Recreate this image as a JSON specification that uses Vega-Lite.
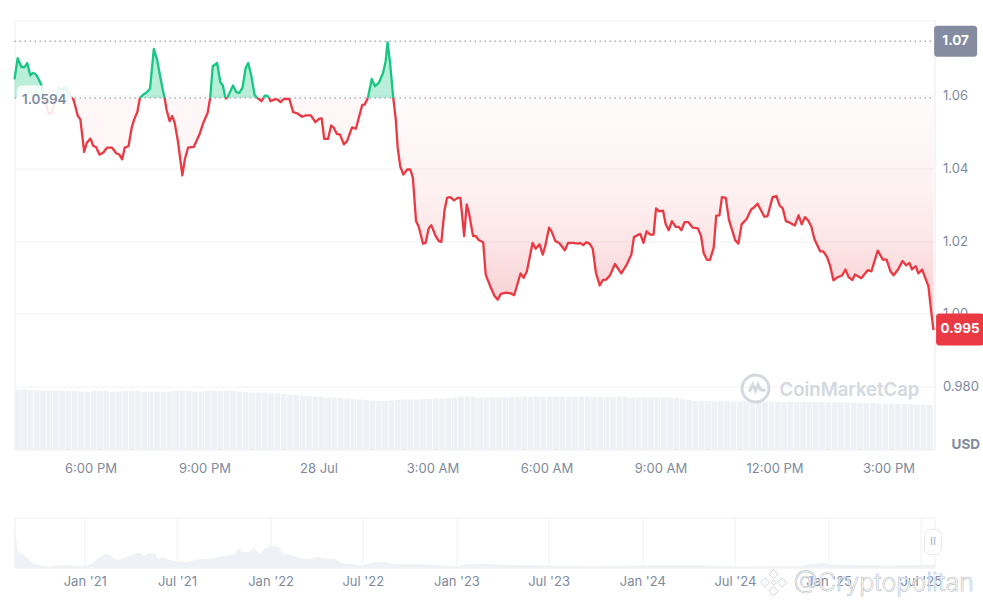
{
  "$schema": "https://vega.github.io/schema/vega-lite/v6.json",
  "background": "white",
  "padding": {"left": 12.5, "top": 19.5, "right": 0, "bottom": 0},
  "bounds": "flush",
  "spacing": 68,
  "config": {
    "font": "Inter",
    "view": {"stroke": "#f0f1f4"},
    "axis": {
      "title": null,
      "labelColor": "#808a9d",
      "labelFont": "Inter",
      "labelFontSize": 13,
      "domainColor": "#eff1f4",
      "gridColor": "#f1f2f5",
      "ticks": false
    }
  },
  "datasets": {
    "above": [
      {"t":"2025-07-27T16:00Z","p":1.0645,"seg":"g1"},{"t":"2025-07-27T16:05Z","p":1.0703,"seg":"g1"},{"t":"2025-07-27T16:11Z","p":1.0679,"seg":"g1"},{"t":"2025-07-27T16:16Z","p":1.0679,"seg":"g1"},{"t":"2025-07-27T16:20Z","p":1.069,"seg":"g1"},{"t":"2025-07-27T16:25Z","p":1.0656,"seg":"g1"},{"t":"2025-07-27T16:29Z","p":1.0663,"seg":"g1"},{"t":"2025-07-27T16:34Z","p":1.0658,"seg":"g1"},{"t":"2025-07-27T16:38Z","p":1.0646,"seg":"g1"},{"t":"2025-07-27T16:42Z","p":1.0631,"seg":"g1"},{"t":"2025-07-27T16:45Z","p":1.0612,"seg":"g1"},{"t":"2025-07-27T16:47Z","p":1.0594,"seg":"g1"},
      {"t":"2025-07-27T17:06Z","p":1.0594,"seg":"g2"},{"t":"2025-07-27T17:10Z","p":1.0622,"seg":"g2"},{"t":"2025-07-27T17:16Z","p":1.0617,"seg":"g2"},{"t":"2025-07-27T17:20Z","p":1.0624,"seg":"g2"},{"t":"2025-07-27T17:25Z","p":1.061,"seg":"g2"},{"t":"2025-07-27T17:30Z","p":1.0594,"seg":"g2"},
      {"t":"2025-07-27T19:18Z","p":1.0594,"seg":"g3"},{"t":"2025-07-27T19:24Z","p":1.0604,"seg":"g3"},{"t":"2025-07-27T19:28Z","p":1.0608,"seg":"g3"},{"t":"2025-07-27T19:34Z","p":1.0619,"seg":"g3"},{"t":"2025-07-27T19:40Z","p":1.0729,"seg":"g3"},{"t":"2025-07-27T19:45Z","p":1.07,"seg":"g3"},{"t":"2025-07-27T19:49Z","p":1.0663,"seg":"g3"},{"t":"2025-07-27T19:54Z","p":1.0617,"seg":"g3"},{"t":"2025-07-27T19:57Z","p":1.0594,"seg":"g3"},
      {"t":"2025-07-27T21:09Z","p":1.0594,"seg":"g4"},{"t":"2025-07-27T21:13Z","p":1.0681,"seg":"g4"},{"t":"2025-07-27T21:20Z","p":1.069,"seg":"g4"},{"t":"2025-07-27T21:25Z","p":1.0637,"seg":"g4"},{"t":"2025-07-27T21:29Z","p":1.0628,"seg":"g4"},{"t":"2025-07-27T21:33Z","p":1.0594,"seg":"g4"},
      {"t":"2025-07-27T21:36Z","p":1.0594,"seg":"g5"},{"t":"2025-07-27T21:45Z","p":1.0628,"seg":"g5"},{"t":"2025-07-27T21:50Z","p":1.061,"seg":"g5"},{"t":"2025-07-27T21:55Z","p":1.0608,"seg":"g5"},{"t":"2025-07-27T22:00Z","p":1.0622,"seg":"g5"},{"t":"2025-07-27T22:05Z","p":1.0677,"seg":"g5"},{"t":"2025-07-27T22:09Z","p":1.069,"seg":"g5"},{"t":"2025-07-27T22:14Z","p":1.0654,"seg":"g5"},{"t":"2025-07-27T22:19Z","p":1.0603,"seg":"g5"},{"t":"2025-07-27T22:23Z","p":1.0594,"seg":"g5"},
      {"t":"2025-07-27T22:33Z","p":1.0594,"seg":"g6"},{"t":"2025-07-27T22:35Z","p":1.06,"seg":"g6"},{"t":"2025-07-27T22:39Z","p":1.06,"seg":"g6"},{"t":"2025-07-27T22:42Z","p":1.0594,"seg":"g6"},
      {"t":"2025-07-28T01:18Z","p":1.0594,"seg":"g7"},{"t":"2025-07-28T01:24Z","p":1.0646,"seg":"g7"},{"t":"2025-07-28T01:29Z","p":1.0626,"seg":"g7"},{"t":"2025-07-28T01:35Z","p":1.0635,"seg":"g7"},{"t":"2025-07-28T01:42Z","p":1.0663,"seg":"g7"},{"t":"2025-07-28T01:46Z","p":1.0695,"seg":"g7"},{"t":"2025-07-28T01:49Z","p":1.0747,"seg":"g7"},{"t":"2025-07-28T01:53Z","p":1.069,"seg":"g7"},{"t":"2025-07-28T01:58Z","p":1.0594,"seg":"g7"}
    ],
    "below": [
      {"t":"2025-07-27T16:47Z","p":1.0594,"seg":"r1"},{"t":"2025-07-27T16:54Z","p":1.0551,"seg":"r1"},{"t":"2025-07-27T16:59Z","p":1.0551,"seg":"r1"},{"t":"2025-07-27T17:03Z","p":1.058,"seg":"r1"},{"t":"2025-07-27T17:06Z","p":1.0594,"seg":"r1"},
      {"t":"2025-07-27T17:30Z","p":1.0594,"seg":"r2"},{"t":"2025-07-27T17:33Z","p":1.059,"seg":"r2"},{"t":"2025-07-27T17:36Z","p":1.0571,"seg":"r2"},{"t":"2025-07-27T17:40Z","p":1.0544,"seg":"r2"},{"t":"2025-07-27T17:44Z","p":1.0535,"seg":"r2"},{"t":"2025-07-27T17:50Z","p":1.0445,"seg":"r2"},{"t":"2025-07-27T17:54Z","p":1.047,"seg":"r2"},{"t":"2025-07-27T18:00Z","p":1.0482,"seg":"r2"},{"t":"2025-07-27T18:04Z","p":1.0463,"seg":"r2"},{"t":"2025-07-27T18:09Z","p":1.0458,"seg":"r2"},{"t":"2025-07-27T18:14Z","p":1.0438,"seg":"r2"},{"t":"2025-07-27T18:20Z","p":1.0443,"seg":"r2"},{"t":"2025-07-27T18:26Z","p":1.0457,"seg":"r2"},{"t":"2025-07-27T18:34Z","p":1.0457,"seg":"r2"},{"t":"2025-07-27T18:41Z","p":1.0441,"seg":"r2"},{"t":"2025-07-27T18:45Z","p":1.0439,"seg":"r2"},{"t":"2025-07-27T18:50Z","p":1.0425,"seg":"r2"},{"t":"2025-07-27T18:54Z","p":1.0457,"seg":"r2"},{"t":"2025-07-27T19:00Z","p":1.0461,"seg":"r2"},{"t":"2025-07-27T19:05Z","p":1.0512,"seg":"r2"},{"t":"2025-07-27T19:09Z","p":1.0535,"seg":"r2"},{"t":"2025-07-27T19:14Z","p":1.0555,"seg":"r2"},{"t":"2025-07-27T19:18Z","p":1.0594,"seg":"r2"},
      {"t":"2025-07-27T19:57Z","p":1.0594,"seg":"r3"},{"t":"2025-07-27T20:00Z","p":1.0562,"seg":"r3"},{"t":"2025-07-27T20:05Z","p":1.053,"seg":"r3"},{"t":"2025-07-27T20:09Z","p":1.0544,"seg":"r3"},{"t":"2025-07-27T20:13Z","p":1.0525,"seg":"r3"},{"t":"2025-07-27T20:18Z","p":1.0475,"seg":"r3"},{"t":"2025-07-27T20:25Z","p":1.0381,"seg":"r3"},{"t":"2025-07-27T20:29Z","p":1.0425,"seg":"r3"},{"t":"2025-07-27T20:34Z","p":1.0457,"seg":"r3"},{"t":"2025-07-27T20:43Z","p":1.0459,"seg":"r3"},{"t":"2025-07-27T20:52Z","p":1.0493,"seg":"r3"},{"t":"2025-07-27T20:58Z","p":1.0525,"seg":"r3"},{"t":"2025-07-27T21:05Z","p":1.0553,"seg":"r3"},{"t":"2025-07-27T21:09Z","p":1.0594,"seg":"r3"},
      {"t":"2025-07-27T21:33Z","p":1.0594,"seg":"r4"},{"t":"2025-07-27T21:34Z","p":1.0592,"seg":"r4"},{"t":"2025-07-27T21:36Z","p":1.0594,"seg":"r4"},
      {"t":"2025-07-27T22:23Z","p":1.0594,"seg":"r5"},{"t":"2025-07-27T22:30Z","p":1.0585,"seg":"r5"},{"t":"2025-07-27T22:33Z","p":1.0594,"seg":"r5"},
      {"t":"2025-07-27T22:42Z","p":1.0594,"seg":"r6"},{"t":"2025-07-27T22:44Z","p":1.0585,"seg":"r6"},{"t":"2025-07-27T22:51Z","p":1.059,"seg":"r6"},{"t":"2025-07-27T22:55Z","p":1.059,"seg":"r6"},{"t":"2025-07-27T23:00Z","p":1.0582,"seg":"r6"},{"t":"2025-07-27T23:05Z","p":1.0591,"seg":"r6"},{"t":"2025-07-27T23:14Z","p":1.0591,"seg":"r6"},{"t":"2025-07-27T23:20Z","p":1.0555,"seg":"r6"},{"t":"2025-07-27T23:27Z","p":1.0551,"seg":"r6"},{"t":"2025-07-27T23:34Z","p":1.0542,"seg":"r6"},{"t":"2025-07-27T23:40Z","p":1.0546,"seg":"r6"},{"t":"2025-07-27T23:48Z","p":1.0546,"seg":"r6"},{"t":"2025-07-27T23:55Z","p":1.0527,"seg":"r6"},{"t":"2025-07-28T00:01Z","p":1.0536,"seg":"r6"},{"t":"2025-07-28T00:05Z","p":1.0538,"seg":"r6"},{"t":"2025-07-28T00:09Z","p":1.0481,"seg":"r6"},{"t":"2025-07-28T00:15Z","p":1.0481,"seg":"r6"},{"t":"2025-07-28T00:20Z","p":1.0518,"seg":"r6"},{"t":"2025-07-28T00:24Z","p":1.0512,"seg":"r6"},{"t":"2025-07-28T00:29Z","p":1.0495,"seg":"r6"},{"t":"2025-07-28T00:34Z","p":1.0493,"seg":"r6"},{"t":"2025-07-28T00:40Z","p":1.0466,"seg":"r6"},{"t":"2025-07-28T00:45Z","p":1.0475,"seg":"r6"},{"t":"2025-07-28T00:53Z","p":1.0513,"seg":"r6"},{"t":"2025-07-28T00:59Z","p":1.0509,"seg":"r6"},{"t":"2025-07-28T01:09Z","p":1.0574,"seg":"r6"},{"t":"2025-07-28T01:13Z","p":1.0576,"seg":"r6"},{"t":"2025-07-28T01:18Z","p":1.0594,"seg":"r6"},
      {"t":"2025-07-28T01:58Z","p":1.0594,"seg":"r7"},{"t":"2025-07-28T02:02Z","p":1.0535,"seg":"r7"},{"t":"2025-07-28T02:05Z","p":1.0457,"seg":"r7"},{"t":"2025-07-28T02:09Z","p":1.0406,"seg":"r7"},{"t":"2025-07-28T02:14Z","p":1.0383,"seg":"r7"},{"t":"2025-07-28T02:20Z","p":1.0397,"seg":"r7"},{"t":"2025-07-28T02:25Z","p":1.0397,"seg":"r7"},{"t":"2025-07-28T02:29Z","p":1.0374,"seg":"r7"},{"t":"2025-07-28T02:34Z","p":1.0255,"seg":"r7"},{"t":"2025-07-28T02:38Z","p":1.0241,"seg":"r7"},{"t":"2025-07-28T02:45Z","p":1.0193,"seg":"r7"},{"t":"2025-07-28T02:49Z","p":1.0195,"seg":"r7"},{"t":"2025-07-28T02:54Z","p":1.0235,"seg":"r7"},{"t":"2025-07-28T02:58Z","p":1.0244,"seg":"r7"},{"t":"2025-07-28T03:05Z","p":1.0214,"seg":"r7"},{"t":"2025-07-28T03:10Z","p":1.02,"seg":"r7"},{"t":"2025-07-28T03:14Z","p":1.0198,"seg":"r7"},{"t":"2025-07-28T03:19Z","p":1.0285,"seg":"r7"},{"t":"2025-07-28T03:23Z","p":1.0319,"seg":"r7"},{"t":"2025-07-28T03:28Z","p":1.0321,"seg":"r7"},{"t":"2025-07-28T03:34Z","p":1.0312,"seg":"r7"},{"t":"2025-07-28T03:40Z","p":1.0319,"seg":"r7"},{"t":"2025-07-28T03:44Z","p":1.0319,"seg":"r7"},{"t":"2025-07-28T03:50Z","p":1.0214,"seg":"r7"},{"t":"2025-07-28T03:54Z","p":1.0301,"seg":"r7"},{"t":"2025-07-28T03:58Z","p":1.0273,"seg":"r7"},{"t":"2025-07-28T04:04Z","p":1.0214,"seg":"r7"},{"t":"2025-07-28T04:08Z","p":1.0214,"seg":"r7"},{"t":"2025-07-28T04:13Z","p":1.0203,"seg":"r7"},{"t":"2025-07-28T04:20Z","p":1.0197,"seg":"r7"},{"t":"2025-07-28T04:24Z","p":1.0108,"seg":"r7"},{"t":"2025-07-28T04:31Z","p":1.0076,"seg":"r7"},{"t":"2025-07-28T04:38Z","p":1.0049,"seg":"r7"},{"t":"2025-07-28T04:43Z","p":1.0039,"seg":"r7"},{"t":"2025-07-28T04:48Z","p":1.0055,"seg":"r7"},{"t":"2025-07-28T04:56Z","p":1.0058,"seg":"r7"},{"t":"2025-07-28T05:04Z","p":1.0056,"seg":"r7"},{"t":"2025-07-28T05:09Z","p":1.0051,"seg":"r7"},{"t":"2025-07-28T05:19Z","p":1.0111,"seg":"r7"},{"t":"2025-07-28T05:24Z","p":1.0099,"seg":"r7"},{"t":"2025-07-28T05:29Z","p":1.0117,"seg":"r7"},{"t":"2025-07-28T05:38Z","p":1.0195,"seg":"r7"},{"t":"2025-07-28T05:43Z","p":1.0179,"seg":"r7"},{"t":"2025-07-28T05:49Z","p":1.0191,"seg":"r7"},{"t":"2025-07-28T05:54Z","p":1.0163,"seg":"r7"},{"t":"2025-07-28T05:58Z","p":1.0186,"seg":"r7"},{"t":"2025-07-28T06:04Z","p":1.0237,"seg":"r7"},{"t":"2025-07-28T06:08Z","p":1.0227,"seg":"r7"},{"t":"2025-07-28T06:14Z","p":1.02,"seg":"r7"},{"t":"2025-07-28T06:20Z","p":1.0195,"seg":"r7"},{"t":"2025-07-28T06:29Z","p":1.0175,"seg":"r7"},{"t":"2025-07-28T06:34Z","p":1.0195,"seg":"r7"},{"t":"2025-07-28T06:42Z","p":1.0195,"seg":"r7"},{"t":"2025-07-28T06:50Z","p":1.0193,"seg":"r7"},{"t":"2025-07-28T06:53Z","p":1.0195,"seg":"r7"},{"t":"2025-07-28T06:58Z","p":1.0189,"seg":"r7"},{"t":"2025-07-28T07:03Z","p":1.0197,"seg":"r7"},{"t":"2025-07-28T07:08Z","p":1.0193,"seg":"r7"},{"t":"2025-07-28T07:13Z","p":1.0179,"seg":"r7"},{"t":"2025-07-28T07:18Z","p":1.0113,"seg":"r7"},{"t":"2025-07-28T07:24Z","p":1.0078,"seg":"r7"},{"t":"2025-07-28T07:29Z","p":1.0093,"seg":"r7"},{"t":"2025-07-28T07:34Z","p":1.0094,"seg":"r7"},{"t":"2025-07-28T07:40Z","p":1.0105,"seg":"r7"},{"t":"2025-07-28T07:48Z","p":1.0137,"seg":"r7"},{"t":"2025-07-28T07:58Z","p":1.0111,"seg":"r7"},{"t":"2025-07-28T08:06Z","p":1.0133,"seg":"r7"},{"t":"2025-07-28T08:14Z","p":1.0163,"seg":"r7"},{"t":"2025-07-28T08:18Z","p":1.0211,"seg":"r7"},{"t":"2025-07-28T08:28Z","p":1.022,"seg":"r7"},{"t":"2025-07-28T08:33Z","p":1.0195,"seg":"r7"},{"t":"2025-07-28T08:38Z","p":1.0227,"seg":"r7"},{"t":"2025-07-28T08:44Z","p":1.0218,"seg":"r7"},{"t":"2025-07-28T08:49Z","p":1.0218,"seg":"r7"},{"t":"2025-07-28T08:53Z","p":1.029,"seg":"r7"},{"t":"2025-07-28T08:58Z","p":1.0282,"seg":"r7"},{"t":"2025-07-28T09:04Z","p":1.0284,"seg":"r7"},{"t":"2025-07-28T09:08Z","p":1.0248,"seg":"r7"},{"t":"2025-07-28T09:13Z","p":1.023,"seg":"r7"},{"t":"2025-07-28T09:18Z","p":1.0255,"seg":"r7"},{"t":"2025-07-28T09:24Z","p":1.0239,"seg":"r7"},{"t":"2025-07-28T09:29Z","p":1.0239,"seg":"r7"},{"t":"2025-07-28T09:33Z","p":1.023,"seg":"r7"},{"t":"2025-07-28T09:38Z","p":1.0252,"seg":"r7"},{"t":"2025-07-28T09:44Z","p":1.0252,"seg":"r7"},{"t":"2025-07-28T09:51Z","p":1.0237,"seg":"r7"},{"t":"2025-07-28T09:59Z","p":1.0235,"seg":"r7"},{"t":"2025-07-28T10:04Z","p":1.0214,"seg":"r7"},{"t":"2025-07-28T10:08Z","p":1.0168,"seg":"r7"},{"t":"2025-07-28T10:13Z","p":1.0149,"seg":"r7"},{"t":"2025-07-28T10:18Z","p":1.0148,"seg":"r7"},{"t":"2025-07-28T10:24Z","p":1.0182,"seg":"r7"},{"t":"2025-07-28T10:28Z","p":1.027,"seg":"r7"},{"t":"2025-07-28T10:33Z","p":1.0271,"seg":"r7"},{"t":"2025-07-28T10:37Z","p":1.0321,"seg":"r7"},{"t":"2025-07-28T10:43Z","p":1.0319,"seg":"r7"},{"t":"2025-07-28T10:48Z","p":1.0259,"seg":"r7"},{"t":"2025-07-28T10:58Z","p":1.0202,"seg":"r7"},{"t":"2025-07-28T11:03Z","p":1.0193,"seg":"r7"},{"t":"2025-07-28T11:08Z","p":1.0246,"seg":"r7"},{"t":"2025-07-28T11:16Z","p":1.0261,"seg":"r7"},{"t":"2025-07-28T11:23Z","p":1.0287,"seg":"r7"},{"t":"2025-07-28T11:28Z","p":1.0293,"seg":"r7"},{"t":"2025-07-28T11:33Z","p":1.0303,"seg":"r7"},{"t":"2025-07-28T11:38Z","p":1.0287,"seg":"r7"},{"t":"2025-07-28T11:44Z","p":1.0267,"seg":"r7"},{"t":"2025-07-28T11:49Z","p":1.0269,"seg":"r7"},{"t":"2025-07-28T11:57Z","p":1.0321,"seg":"r7"},{"t":"2025-07-28T12:03Z","p":1.0324,"seg":"r7"},{"t":"2025-07-28T12:08Z","p":1.0298,"seg":"r7"},{"t":"2025-07-28T12:13Z","p":1.029,"seg":"r7"},{"t":"2025-07-28T12:18Z","p":1.0255,"seg":"r7"},{"t":"2025-07-28T12:25Z","p":1.025,"seg":"r7"},{"t":"2025-07-28T12:32Z","p":1.0243,"seg":"r7"},{"t":"2025-07-28T12:38Z","p":1.0271,"seg":"r7"},{"t":"2025-07-28T12:43Z","p":1.0246,"seg":"r7"},{"t":"2025-07-28T12:48Z","p":1.0266,"seg":"r7"},{"t":"2025-07-28T12:53Z","p":1.0257,"seg":"r7"},{"t":"2025-07-28T12:58Z","p":1.0241,"seg":"r7"},{"t":"2025-07-28T13:03Z","p":1.0206,"seg":"r7"},{"t":"2025-07-28T13:12Z","p":1.0172,"seg":"r7"},{"t":"2025-07-28T13:17Z","p":1.0172,"seg":"r7"},{"t":"2025-07-28T13:23Z","p":1.0156,"seg":"r7"},{"t":"2025-07-28T13:28Z","p":1.0131,"seg":"r7"},{"t":"2025-07-28T13:33Z","p":1.0092,"seg":"r7"},{"t":"2025-07-28T13:38Z","p":1.0099,"seg":"r7"},{"t":"2025-07-28T13:47Z","p":1.0106,"seg":"r7"},{"t":"2025-07-28T13:52Z","p":1.0122,"seg":"r7"},{"t":"2025-07-28T13:57Z","p":1.0101,"seg":"r7"},{"t":"2025-07-28T14:03Z","p":1.0093,"seg":"r7"},{"t":"2025-07-28T14:07Z","p":1.0108,"seg":"r7"},{"t":"2025-07-28T14:17Z","p":1.0098,"seg":"r7"},{"t":"2025-07-28T14:27Z","p":1.012,"seg":"r7"},{"t":"2025-07-28T14:33Z","p":1.0117,"seg":"r7"},{"t":"2025-07-28T14:43Z","p":1.0174,"seg":"r7"},{"t":"2025-07-28T14:51Z","p":1.0149,"seg":"r7"},{"t":"2025-07-28T14:57Z","p":1.0149,"seg":"r7"},{"t":"2025-07-28T15:03Z","p":1.0117,"seg":"r7"},{"t":"2025-07-28T15:08Z","p":1.0106,"seg":"r7"},{"t":"2025-07-28T15:15Z","p":1.0122,"seg":"r7"},{"t":"2025-07-28T15:22Z","p":1.0145,"seg":"r7"},{"t":"2025-07-28T15:28Z","p":1.0133,"seg":"r7"},{"t":"2025-07-28T15:33Z","p":1.014,"seg":"r7"},{"t":"2025-07-28T15:37Z","p":1.0122,"seg":"r7"},{"t":"2025-07-28T15:43Z","p":1.0131,"seg":"r7"},{"t":"2025-07-28T15:47Z","p":1.0111,"seg":"r7"},{"t":"2025-07-28T15:53Z","p":1.0122,"seg":"r7"},{"t":"2025-07-28T15:59Z","p":1.0094,"seg":"r7"},{"t":"2025-07-28T16:03Z","p":1.0076,"seg":"r7"},{"t":"2025-07-28T16:07Z","p":1.0012,"seg":"r7"},{"t":"2025-07-28T16:11Z","p":0.9955,"seg":"r7"}
    ],
    "volume": [
      {"t":"2025-07-27T16:05Z","v":60},{"t":"2025-07-27T16:15Z","v":60},{"t":"2025-07-27T16:25Z","v":59},{"t":"2025-07-27T16:35Z","v":59},{"t":"2025-07-27T16:45Z","v":58.5},{"t":"2025-07-27T16:55Z","v":58.5},{"t":"2025-07-27T17:05Z","v":58.5},{"t":"2025-07-27T17:15Z","v":58.5},{"t":"2025-07-27T17:25Z","v":58.5},{"t":"2025-07-27T17:35Z","v":58.5},{"t":"2025-07-27T17:45Z","v":58},{"t":"2025-07-27T17:55Z","v":58},
      {"t":"2025-07-27T18:05Z","v":58.5},{"t":"2025-07-27T18:15Z","v":58.5},{"t":"2025-07-27T18:25Z","v":58.5},{"t":"2025-07-27T18:35Z","v":58},{"t":"2025-07-27T18:45Z","v":58},{"t":"2025-07-27T18:55Z","v":58.5},{"t":"2025-07-27T19:05Z","v":58.5},{"t":"2025-07-27T19:15Z","v":58.5},{"t":"2025-07-27T19:25Z","v":58},{"t":"2025-07-27T19:35Z","v":58},{"t":"2025-07-27T19:45Z","v":58},{"t":"2025-07-27T19:55Z","v":58},
      {"t":"2025-07-27T20:05Z","v":58},{"t":"2025-07-27T20:15Z","v":58.5},{"t":"2025-07-27T20:25Z","v":58.5},{"t":"2025-07-27T20:35Z","v":58.5},{"t":"2025-07-27T20:45Z","v":58},{"t":"2025-07-27T20:55Z","v":58},{"t":"2025-07-27T21:05Z","v":58.5},{"t":"2025-07-27T21:15Z","v":58.5},{"t":"2025-07-27T21:25Z","v":58.5},{"t":"2025-07-27T21:35Z","v":58.5},{"t":"2025-07-27T21:45Z","v":58.5},{"t":"2025-07-27T21:55Z","v":58},
      {"t":"2025-07-27T22:05Z","v":57.5},{"t":"2025-07-27T22:15Z","v":57},{"t":"2025-07-27T22:25Z","v":57},{"t":"2025-07-27T22:35Z","v":56.5},{"t":"2025-07-27T22:45Z","v":56},{"t":"2025-07-27T22:55Z","v":56},{"t":"2025-07-27T23:05Z","v":55.5},{"t":"2025-07-27T23:15Z","v":55},{"t":"2025-07-27T23:25Z","v":54.5},{"t":"2025-07-27T23:35Z","v":54},{"t":"2025-07-27T23:45Z","v":53.5},{"t":"2025-07-27T23:55Z","v":53},
      {"t":"2025-07-28T00:05Z","v":52.5},{"t":"2025-07-28T00:15Z","v":52},{"t":"2025-07-28T00:25Z","v":52},{"t":"2025-07-28T00:35Z","v":51.5},{"t":"2025-07-28T00:45Z","v":51},{"t":"2025-07-28T00:55Z","v":50.5},{"t":"2025-07-28T01:05Z","v":50},{"t":"2025-07-28T01:15Z","v":49.5},{"t":"2025-07-28T01:25Z","v":49},{"t":"2025-07-28T01:35Z","v":48.5},{"t":"2025-07-28T01:45Z","v":48.5},{"t":"2025-07-28T01:55Z","v":49},
      {"t":"2025-07-28T02:05Z","v":49.5},{"t":"2025-07-28T02:15Z","v":50},{"t":"2025-07-28T02:25Z","v":50},{"t":"2025-07-28T02:35Z","v":50},{"t":"2025-07-28T02:45Z","v":50.5},{"t":"2025-07-28T02:55Z","v":50.5},{"t":"2025-07-28T03:05Z","v":51},{"t":"2025-07-28T03:15Z","v":51},{"t":"2025-07-28T03:25Z","v":51.5},{"t":"2025-07-28T03:35Z","v":52},{"t":"2025-07-28T03:45Z","v":52.5},{"t":"2025-07-28T03:55Z","v":52.7},
      {"t":"2025-07-28T04:05Z","v":52.5},{"t":"2025-07-28T04:15Z","v":52},{"t":"2025-07-28T04:25Z","v":52},{"t":"2025-07-28T04:35Z","v":52},{"t":"2025-07-28T04:45Z","v":52},{"t":"2025-07-28T04:55Z","v":52},{"t":"2025-07-28T05:05Z","v":52.5},{"t":"2025-07-28T05:15Z","v":52.5},{"t":"2025-07-28T05:25Z","v":52.5},{"t":"2025-07-28T05:35Z","v":52.5},{"t":"2025-07-28T05:45Z","v":53},{"t":"2025-07-28T05:55Z","v":53},
      {"t":"2025-07-28T06:05Z","v":53},{"t":"2025-07-28T06:15Z","v":53},{"t":"2025-07-28T06:25Z","v":53},{"t":"2025-07-28T06:35Z","v":53},{"t":"2025-07-28T06:45Z","v":53},{"t":"2025-07-28T06:55Z","v":53},{"t":"2025-07-28T07:05Z","v":52.5},{"t":"2025-07-28T07:15Z","v":52.5},{"t":"2025-07-28T07:25Z","v":52.5},{"t":"2025-07-28T07:35Z","v":52.5},{"t":"2025-07-28T07:45Z","v":52.5},{"t":"2025-07-28T07:55Z","v":52.5},
      {"t":"2025-07-28T08:05Z","v":52.5},{"t":"2025-07-28T08:15Z","v":52},{"t":"2025-07-28T08:25Z","v":52},{"t":"2025-07-28T08:35Z","v":52},{"t":"2025-07-28T08:45Z","v":52},{"t":"2025-07-28T08:55Z","v":52},{"t":"2025-07-28T09:05Z","v":52},{"t":"2025-07-28T09:15Z","v":52},{"t":"2025-07-28T09:25Z","v":51.5},{"t":"2025-07-28T09:35Z","v":50.5},{"t":"2025-07-28T09:45Z","v":49.5},{"t":"2025-07-28T09:55Z","v":48.5},
      {"t":"2025-07-28T10:05Z","v":48.5},{"t":"2025-07-28T10:15Z","v":48.5},{"t":"2025-07-28T10:25Z","v":48},{"t":"2025-07-28T10:35Z","v":48},{"t":"2025-07-28T10:45Z","v":48},{"t":"2025-07-28T10:55Z","v":48},{"t":"2025-07-28T11:05Z","v":48},{"t":"2025-07-28T11:15Z","v":48},{"t":"2025-07-28T11:25Z","v":47.8},{"t":"2025-07-28T11:35Z","v":47.8},{"t":"2025-07-28T11:45Z","v":47.8},{"t":"2025-07-28T11:55Z","v":47.8},
      {"t":"2025-07-28T12:05Z","v":47.5},{"t":"2025-07-28T12:15Z","v":47.5},{"t":"2025-07-28T12:25Z","v":47.5},{"t":"2025-07-28T12:35Z","v":47.5},{"t":"2025-07-28T12:45Z","v":47.5},{"t":"2025-07-28T12:55Z","v":47.5},{"t":"2025-07-28T13:05Z","v":47.3},{"t":"2025-07-28T13:15Z","v":47.3},{"t":"2025-07-28T13:25Z","v":47.3},{"t":"2025-07-28T13:35Z","v":47.3},{"t":"2025-07-28T13:45Z","v":47},{"t":"2025-07-28T13:55Z","v":47},
      {"t":"2025-07-28T14:05Z","v":47},{"t":"2025-07-28T14:15Z","v":46.5},{"t":"2025-07-28T14:25Z","v":46.5},{"t":"2025-07-28T14:35Z","v":46.5},{"t":"2025-07-28T14:45Z","v":46},{"t":"2025-07-28T14:55Z","v":46},{"t":"2025-07-28T15:05Z","v":46},{"t":"2025-07-28T15:15Z","v":45.5},{"t":"2025-07-28T15:25Z","v":45.5},{"t":"2025-07-28T15:35Z","v":45.5},{"t":"2025-07-28T15:45Z","v":45},{"t":"2025-07-28T15:55Z","v":45},{"t":"2025-07-28T16:05Z","v":45}
    ],
    "history": [
      {"d":"2020-08-16","h":135},{"d":"2020-08-18","h":100},{"d":"2020-08-23","h":42},{"d":"2020-09-02","h":40},{"d":"2020-09-12","h":25},{"d":"2020-09-21","h":12},{"d":"2020-10-05","h":6},{"d":"2020-10-24","h":2},{"d":"2020-11-19","h":7},{"d":"2020-12-29","h":3},
      {"d":"2021-01-14","h":10},{"d":"2021-01-27","h":28},{"d":"2021-02-09","h":40},{"d":"2021-02-19","h":38},{"d":"2021-03-01","h":24},{"d":"2021-03-14","h":24},{"d":"2021-03-24","h":32},{"d":"2021-04-06","h":38},{"d":"2021-04-18","h":45},{"d":"2021-04-26","h":34},{"d":"2021-05-06","h":42},{"d":"2021-05-19","h":42},{"d":"2021-05-25","h":25},{"d":"2021-06-04","h":32},{"d":"2021-06-17","h":22},{"d":"2021-07-04","h":18},{"d":"2021-07-20","h":16},{"d":"2021-08-09","h":24},{"d":"2021-09-10","h":26},{"d":"2021-09-20","h":32},{"d":"2021-10-20","h":38},{"d":"2021-10-30","h":55},{"d":"2021-11-08","h":46},{"d":"2021-11-18","h":46},{"d":"2021-11-29","h":58},{"d":"2021-12-11","h":42},{"d":"2021-12-21","h":58},
      {"d":"2022-01-01","h":64},{"d":"2022-01-16","h":62},{"d":"2022-01-25","h":40},{"d":"2022-02-08","h":38},{"d":"2022-02-28","h":28},{"d":"2022-03-16","h":25},{"d":"2022-04-03","h":32},{"d":"2022-04-18","h":26},{"d":"2022-05-08","h":26},{"d":"2022-05-21","h":13},{"d":"2022-06-13","h":10},{"d":"2022-06-29","h":5},{"d":"2022-07-26","h":17},{"d":"2022-08-17","h":16},{"d":"2022-08-30","h":10},{"d":"2022-11-04","h":10},{"d":"2022-12-07","h":5},
      {"d":"2023-01-03","h":3},{"d":"2023-01-22","h":10},{"d":"2023-02-23","h":11},{"d":"2023-03-28","h":8},{"d":"2023-07-01","h":5},{"d":"2023-09-22","h":4},{"d":"2024-01-01","h":6},{"d":"2024-04-15","h":7},{"d":"2024-07-01","h":3},{"d":"2024-11-01","h":4},{"d":"2024-12-20","h":14},{"d":"2025-01-15","h":8},{"d":"2025-05-01","h":5},{"d":"2025-07-28","h":8}
    ]
  },
  "vconcat": [
    {
      "width": 920,
      "height": 429,
      "resolve": {"scale": {"y": "independent"}, "axis": {"y": "independent"}},
      "encoding": {
        "x": {
          "field": "t",
          "type": "temporal",
          "scale": {"type": "utc", "padding": 0, "domain": ["2025-07-27T16:00:00Z", "2025-07-28T16:12:36Z"]},
          "axis": {
            "values": [
              {"year": 2025, "month": 7, "date": 27, "hours": 18, "utc": true},
              {"year": 2025, "month": 7, "date": 27, "hours": 21, "utc": true},
              {"year": 2025, "month": 7, "date": 28, "hours": 0, "utc": true},
              {"year": 2025, "month": 7, "date": 28, "hours": 3, "utc": true},
              {"year": 2025, "month": 7, "date": 28, "hours": 6, "utc": true},
              {"year": 2025, "month": 7, "date": 28, "hours": 9, "utc": true},
              {"year": 2025, "month": 7, "date": 28, "hours": 12, "utc": true},
              {"year": 2025, "month": 7, "date": 28, "hours": 15, "utc": true}
            ],
            "labelExpr": "utchours(datum.value) === 0 ? utcFormat(datum.value, '%-d %b') : utcFormat(datum.value, '%-I:%M %p')",
            "labelPadding": 13,
            "labelFlush": false,
            "grid": false
          }
        }
      },
      "layer": [
        {
          "data": {"name": "volume"},
          "mark": {"type": "bar", "width": 5.6, "color": "#eef1f5"},
          "encoding": {
            "y": {"field": "v", "type": "quantitative", "scale": {"domain": [0, 429]}, "axis": null}
          }
        },
        {
          "encoding": {
            "y": {
              "field": "p",
              "type": "quantitative",
              "scale": {"domain": [0.96267, 1.08069], "nice": false, "zero": false},
              "axis": {
                "orient": "right",
                "values": [0.98, 1, 1.02, 1.04, 1.06],
                "labelExpr": "datum.value === 0.98 ? '0.980' : format(datum.value, '.2f')",
                "labelPadding": 8,
                "grid": true
              }
            }
          },
          "layer": [
            {
              "data": {"name": "above"},
              "mark": {"type": "area", "color": "#16c784", "opacity": 0.3},
              "encoding": {"detail": {"field": "seg"}, "y2": {"datum": 1.0594}}
            },
            {
              "data": {"name": "below"},
              "transform": [{"filter": "datum.seg !== 'r7'"}],
              "mark": {"type": "area", "color": "#ea3943", "opacity": 0.045},
              "encoding": {"detail": {"field": "seg"}, "y2": {"datum": 1.0594}}
            },
            {
              "data": {"name": "below"},
              "transform": [{"filter": "datum.seg === 'r7'"}],
              "mark": {
                "type": "area",
                "color": {
                  "gradient": "linear",
                  "x1": 0, "y1": 0, "x2": 0, "y2": 1,
                  "stops": [
                    {"offset": 0, "color": "rgba(234,57,67,0.02)"},
                    {"offset": 0.4, "color": "rgba(234,57,67,0.07)"},
                    {"offset": 0.6, "color": "rgba(234,57,67,0.12)"},
                    {"offset": 0.85, "color": "rgba(234,57,67,0.22)"},
                    {"offset": 1, "color": "rgba(234,57,67,0.3)"}
                  ]
                }
              },
              "encoding": {"y2": {"datum": 1.0594}}
            },
            {
              "data": {"values": [
                {"t": "2025-07-27T16:00:00Z", "t2": "2025-07-28T16:12:36Z", "p": 1.075},
                {"t": "2025-07-27T16:00:00Z", "t2": "2025-07-28T16:12:36Z", "p": 1.0594}
              ]},
              "mark": {"type": "rule", "color": "#a6b0c3", "strokeWidth": 1.5, "strokeDash": [1.5, 3.5]},
              "encoding": {"x2": {"field": "t2"}}
            },
            {
              "data": {"name": "above"},
              "mark": {"type": "line", "color": "#16c784", "strokeWidth": 2.3, "strokeJoin": "round"},
              "encoding": {"detail": {"field": "seg"}}
            },
            {
              "data": {"name": "below"},
              "mark": {"type": "line", "color": "#ea3943", "strokeWidth": 2.3, "strokeJoin": "round"},
              "encoding": {"detail": {"field": "seg"}}
            },
            {
              "data": {"values": [{"t": "2025-07-27T16:47Z", "p": 1.05854}]},
              "mark": {"type": "rect", "width": 55, "height": 31, "color": "white", "opacity": 0.88, "cornerRadius": 5}
            },
            {
              "data": {"values": [{"t": "2025-07-27T16:47Z", "p": 1.05895, "label": "1.0594"}]},
              "mark": {"type": "text", "color": "#808a9d", "fontSize": 13.5, "fontWeight": 600},
              "encoding": {"text": {"field": "label"}}
            },
            {
              "data": {"values": [{"t": "2025-07-28T16:46Z", "p": 1.075}]},
              "mark": {"type": "rect", "width": 43, "height": 31, "color": "#858ca2", "cornerRadius": 3}
            },
            {
              "data": {"values": [{"t": "2025-07-28T16:53Z", "p": 0.9957}]},
              "mark": {"type": "rect", "width": 48, "height": 32, "color": "#ea3943", "cornerRadius": 3}
            },
            {
              "data": {"values": [
                {"t": "2025-07-28T16:46Z", "p": 1.075, "label": "1.07"},
                {"t": "2025-07-28T16:53Z", "p": 0.9957, "label": "0.995"}
              ]},
              "mark": {"type": "text", "color": "white", "fontSize": 13.5, "fontWeight": 700},
              "encoding": {"text": {"field": "label"}}
            },
            {
              "data": {"values": [{"t": "2025-07-28T17:02Z", "p": 0.96404, "label": "USD"}]},
              "mark": {"type": "text", "color": "#808a9d", "fontSize": 13.5, "fontWeight": 700},
              "encoding": {"text": {"field": "label"}}
            },
            {
              "data": {"values": [{"t": "2025-07-28T12:08Z", "p": 0.97895, "label": "CoinMarketCap"}]},
              "mark": {"type": "text", "color": "#d4d8df", "fontSize": 18.5, "fontWeight": 600, "align": "left"},
              "encoding": {"text": {"field": "label"}}
            },
            {
              "data": {"values": [{"t": "2025-07-28T11:30Z", "p": 0.97945}]},
              "mark": {"type": "point", "shape": "circle", "size": 729, "color": "#d4d8df", "filled": false, "strokeWidth": 3, "opacity": 1}
            },
            {
              "data": {"values": [{"t": "2025-07-28T11:30Z", "p": 0.97945}]},
              "mark": {
                "type": "point",
                "shape": "M-0.62,0.32 L-0.28,-0.38 L0,0.22 L0.26,-0.38 L0.5,0.12 L1,0.2",
                "size": 400,
                "color": "#d4d8df",
                "filled": false,
                "strokeWidth": 3,
                "opacity": 1
              }
            }
          ]
        }
      ]
    },
    {
      "width": 920,
      "height": 50,
      "encoding": {
        "x": {
          "field": "d",
          "type": "temporal",
          "scale": {"type": "utc", "domain": ["2020-08-16", "2025-07-28"]},
          "axis": {
            "values": [
              {"year": 2021, "month": 1, "date": 1, "utc": true},
              {"year": 2021, "month": 7, "date": 1, "utc": true},
              {"year": 2022, "month": 1, "date": 1, "utc": true},
              {"year": 2022, "month": 7, "date": 1, "utc": true},
              {"year": 2023, "month": 1, "date": 1, "utc": true},
              {"year": 2023, "month": 7, "date": 1, "utc": true},
              {"year": 2024, "month": 1, "date": 1, "utc": true},
              {"year": 2024, "month": 7, "date": 1, "utc": true},
              {"year": 2025, "month": 1, "date": 1, "utc": true},
              {"year": 2025, "month": 7, "date": 1, "utc": true}
            ],
            "labelExpr": "utcFormat(datum.value, \"%b '%y\")",
            "labelFlush": false,
            "labelPadding": 8,
            "grid": true
          }
        },
        "y": {"field": "h", "type": "quantitative", "scale": {"domain": [0, 150]}, "axis": null}
      },
      "layer": [
        {
          "data": {"name": "history"},
          "mark": {"type": "area", "color": "#eef1f5"}
        },
        {
          "data": {"values": [{"d": "2025-07-25", "h": 76.5}]},
          "mark": {"type": "rect", "width": 17, "height": 25, "color": "white", "stroke": "#e6e8ed", "cornerRadius": 6}
        },
        {
          "data": {"values": [{"d": "2025-07-25", "h": 76.5, "label": "II"}]},
          "mark": {"type": "text", "color": "#a8b1c2", "fontSize": 11},
          "encoding": {"text": {"field": "label"}}
        },
        {
          "data": {"values": [{"d": "2024-09-15", "h": -45}]},
          "mark": {
            "type": "point",
            "shape": "M0,-1 L0.35,-0.65 L0,-0.3 L-0.35,-0.65Z M0,1 L0.35,0.65 L0,0.3 L-0.35,0.65Z M-1,0 L-0.65,0.35 L-0.3,0 L-0.65,-0.35Z M1,0 L0.65,0.35 L0.3,0 L0.65,-0.35Z M0,-0.2 L0.2,0 L0,0.2 L-0.2,0Z",
            "size": 676,
            "color": "#c9ced6",
            "fill": "white",
            "filled": true,
            "stroke": "#c9ced6",
            "strokeWidth": 1,
            "opacity": 0.85
          }
        },
        {
          "data": {"values": [{"d": "2024-10-24", "h": -45, "label": "@Cryptopolitan"}]},
          "mark": {
            "type": "text",
            "align": "left",
            "font": "Inter",
            "fontSize": 25,
            "fontWeight": 300,
            "fill": "white",
            "fillOpacity": 0.75,
            "stroke": "#b8bec9",
            "strokeWidth": 0.6
          },
          "encoding": {"text": {"field": "label"}}
        }
      ]
    }
  ]
}
